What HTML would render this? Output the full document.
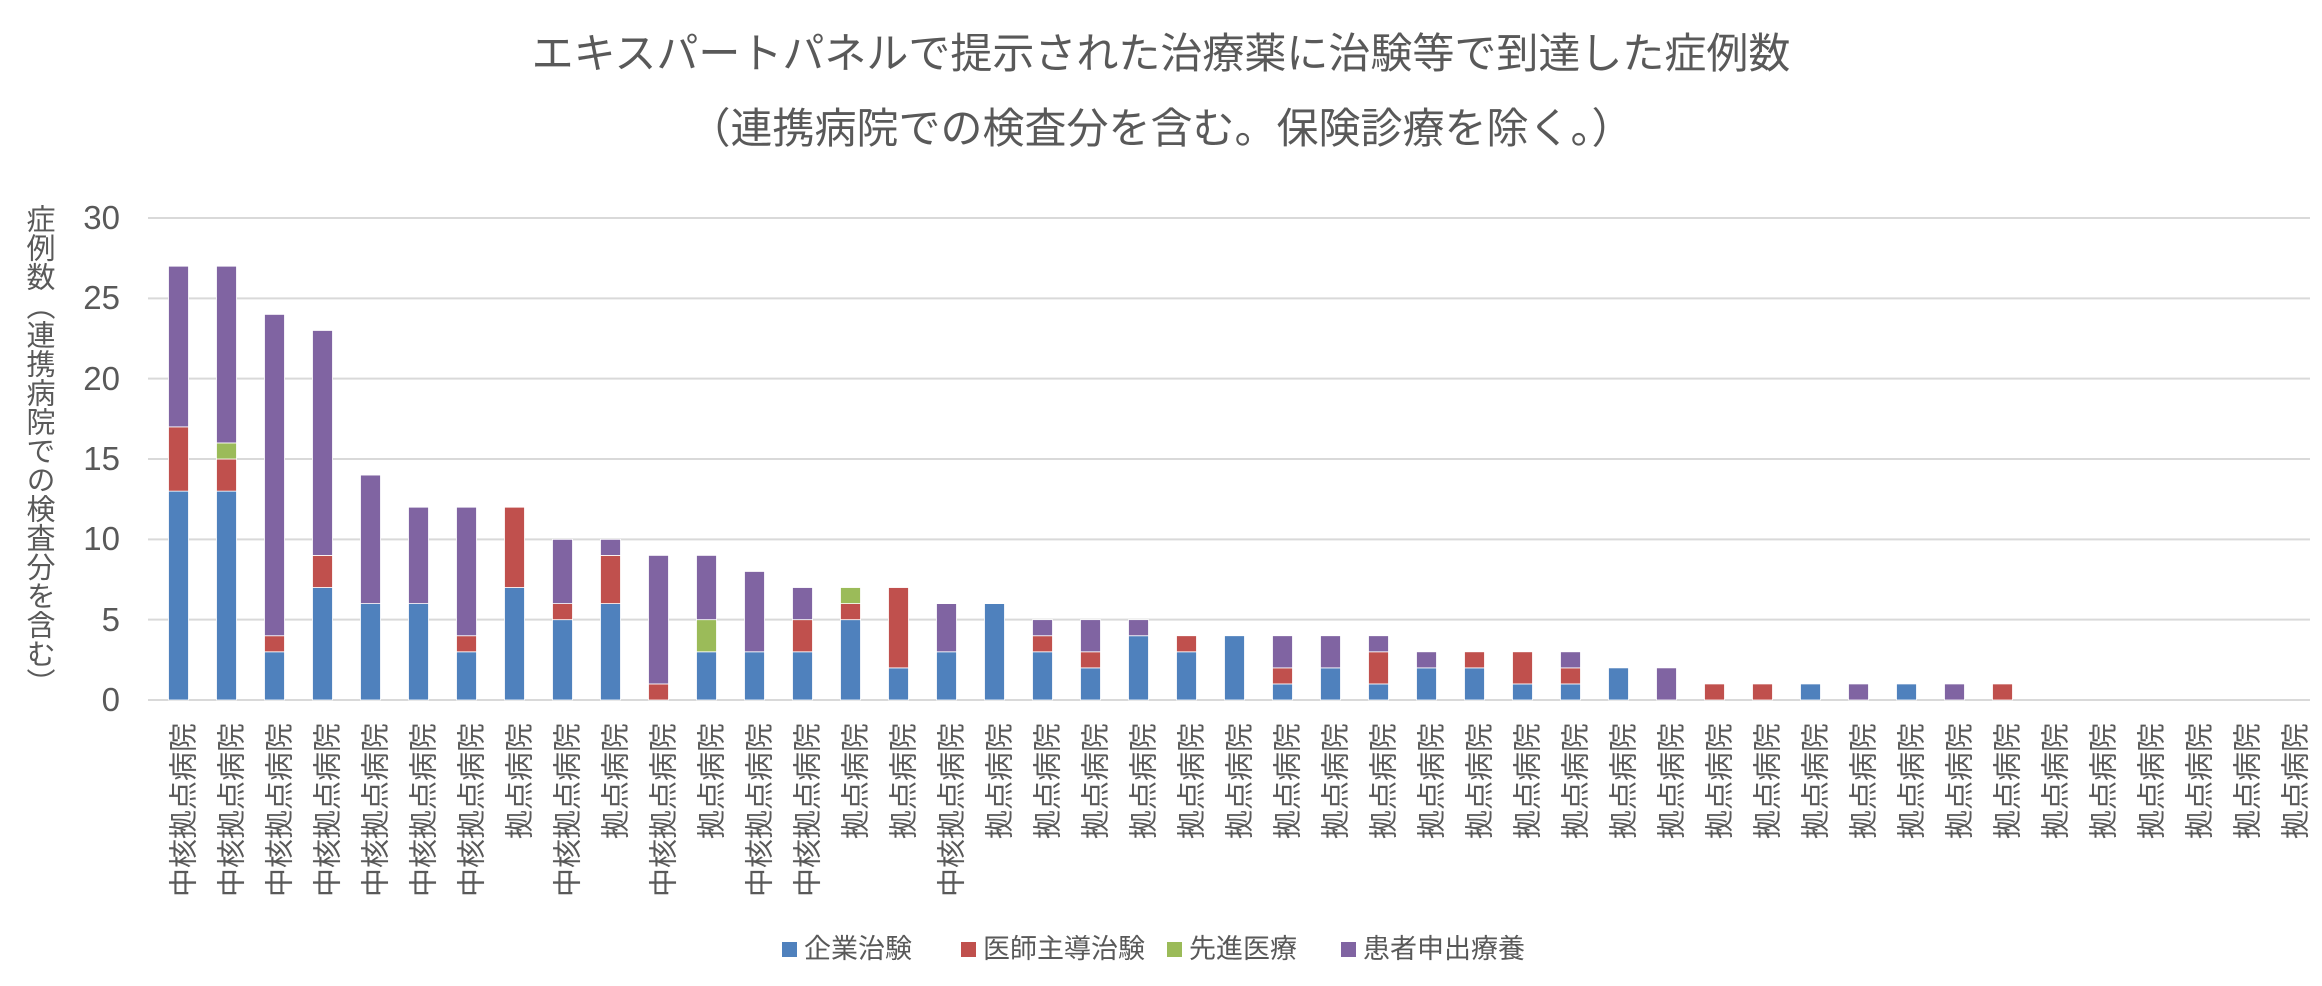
<!DOCTYPE html>
<html><head><meta charset="utf-8">
<style>
body{margin:0;background:#fff;}
#wrap{position:relative;width:2322px;height:986px;overflow:hidden;font-family:"Liberation Sans","Noto Sans CJK JP",sans-serif;color:#595959;}
.title{position:absolute;left:0;width:2322px;text-align:center;font-size:42px;line-height:50px;}
.yl{position:absolute;width:80px;text-align:right;font-size:33px;line-height:34px;}
.ytitle{position:absolute;left:20px;top:204px;height:500px;width:34px;writing-mode:vertical-rl;font-size:29px;line-height:32px;white-space:nowrap;}
.leg{position:absolute;top:933px;font-size:27px;line-height:32px;display:flex;align-items:center;white-space:nowrap;}
.leg span.sw{display:inline-block;width:15px;height:15px;margin-right:7px;}
svg text{font-family:"Liberation Sans","Noto Sans CJK JP",sans-serif;}
</style></head>
<body>
<div id="wrap">
<div class="title" style="top:29px">エキスパートパネルで提示された治療薬に治験等で到達した症例数</div>
<div class="title" style="top:104px">（連携病院での検査分を含む。保険診療を除く。）</div>
<div class="ytitle">症例数（連携病院での検査分を含む）</div>
<svg id="plot" width="2322" height="986" style="position:absolute;left:0;top:0"></svg>
<div class="leg" style="left:782px"><span class="sw" style="background:#4F81BD"></span>企業治験</div>
<div class="leg" style="left:961px"><span class="sw" style="background:#C0504D"></span>医師主導治験</div>
<div class="leg" style="left:1167px"><span class="sw" style="background:#9BBB59"></span>先進医療</div>
<div class="leg" style="left:1341px"><span class="sw" style="background:#8064A2"></span>患者申出療養</div>
</div>
<script>
const categories=["中核拠点病院","中核拠点病院","中核拠点病院","中核拠点病院","中核拠点病院","中核拠点病院","中核拠点病院","拠点病院","中核拠点病院","拠点病院","中核拠点病院","拠点病院","中核拠点病院","中核拠点病院","拠点病院","拠点病院","中核拠点病院","拠点病院","拠点病院","拠点病院","拠点病院","拠点病院","拠点病院","拠点病院","拠点病院","拠点病院","拠点病院","拠点病院","拠点病院","拠点病院","拠点病院","拠点病院","拠点病院","拠点病院","拠点病院","拠点病院","拠点病院","拠点病院","拠点病院","拠点病院","拠点病院","拠点病院","拠点病院","拠点病院","拠点病院"];
const kigyo=[13,13,3,7,6,6,3,7,5,6,0,3,3,3,5,2,3,6,3,2,4,3,4,1,2,1,2,2,1,1,2,0,0,0,1,0,1,0,0,0,0,0,0,0,0];
const ishi=[4,2,1,2,0,0,1,5,1,3,1,0,0,2,1,5,0,0,1,1,0,1,0,1,0,2,0,1,2,1,0,0,1,1,0,0,0,0,1,0,0,0,0,0,0];
const senshin=[0,1,0,0,0,0,0,0,0,0,0,2,0,0,1,0,0,0,0,0,0,0,0,0,0,0,0,0,0,0,0,0,0,0,0,0,0,0,0,0,0,0,0,0,0];
const kanja=[10,11,20,14,8,6,8,0,4,1,8,4,5,2,0,0,3,0,1,2,1,0,0,2,2,1,1,0,0,1,0,2,0,0,0,1,0,1,0,0,0,0,0,0,0];
const yTicks=[0,5,10,15,20,25,30];
const series=[kigyo,ishi,senshin,kanja];
const colors=["#4F81BD","#C0504D","#9BBB59","#8064A2"];
const names=["kigyo","ishi","senshin","kanja"];
const X0=148,X1=2310,Y0=700,Y30=218,STEP=48,FIRST=178.5,BW=20;
function y(v){return Y0-(v/30)*(Y0-Y30);}
function xc(i){return FIRST+i*STEP;}
const NS="http://www.w3.org/2000/svg";
const svg=document.getElementById('plot');
const wrap=document.getElementById('wrap');
yTicks.forEach(t=>{
  const l=document.createElementNS(NS,'line');
  l.setAttribute('x1',X0);l.setAttribute('x2',X1);
  l.setAttribute('y1',y(t));l.setAttribute('y2',y(t));
  l.setAttribute('stroke','#d9d9d9');l.setAttribute('stroke-width','2');
  
  
  svg.appendChild(l);
  const d=document.createElement('div');
  d.className='yl';d.style.left='40px';d.style.top=(y(t)-17)+'px';d.textContent=t;
  
  
  wrap.appendChild(d);
});
categories.forEach((c,i)=>{
  let acc=0;
  series.forEach((s,k)=>{
    const v=s[i];if(!v)return;
    const r=document.createElementNS(NS,'rect');
    r.setAttribute('x',xc(i)-BW/2);r.setAttribute('width',BW);
    r.setAttribute('y',y(acc+v));r.setAttribute('height',y(acc)-y(acc+v));
    r.setAttribute('fill',colors[k]);r.setAttribute('stroke','#fff');r.setAttribute('stroke-width','0.8');
    
    
    svg.appendChild(r);
    acc+=v;
  });
  const t=document.createElementNS(NS,'text');
  const tx=xc(i)+15, ty=723;
  t.setAttribute('x',tx);t.setAttribute('y',ty);
  t.setAttribute('transform','rotate(-90 '+tx+' '+ty+')');
  t.setAttribute('text-anchor','end');
  t.setAttribute('font-size','29');
  t.setAttribute('fill','#595959');
  t.textContent=c;
  
  
  svg.appendChild(t);
});
</script>
</body></html>
